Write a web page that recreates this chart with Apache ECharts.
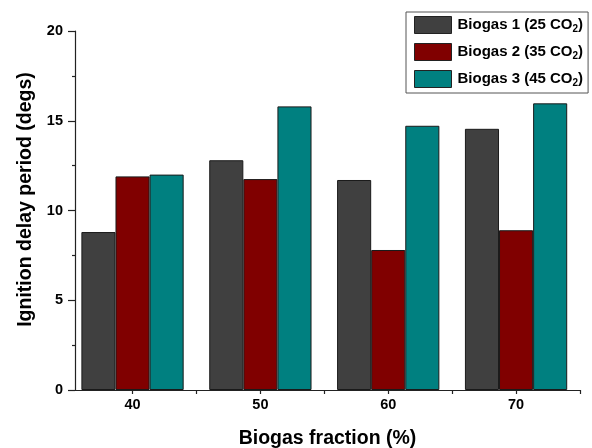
<!DOCTYPE html>
<html>
<head>
<meta charset="utf-8">
<script src="https://cdn.jsdelivr.net/npm/echarts@6/dist/echarts.min.js"></script>
<style>html,body{margin:0;padding:0;background:#fff}#c{width:592px;height:448px}</style>
</head>
<body>
<div id="c"></div>
<script>
var fractions = [40, 50, 60, 70];
var biogas1 = [8.8, 12.8, 11.7, 14.55];
var biogas2 = [11.9, 11.75, 7.8, 8.9];
var biogas3 = [12.0, 15.8, 14.72, 15.97];
var seriesNames = ['Biogas 1 (25 CO{s|2})', 'Biogas 2 (35 CO{s|2})', 'Biogas 3 (45 CO{s|2})'];
var yTicks = [0, 5, 10, 15, 20];
var xTickValues = [40, 45, 50, 55, 60, 65, 70, 75];
var colors = ['#404040', '#800000', '#008080'];

var FONT = '"Liberation Sans", Arial, sans-serif';
function pairs(vals){ return fractions.map(function(f,i){ return [f, vals[i]]; }); }
var allVals = [biogas1, biogas2, biogas3];

var chart = echarts.init(document.getElementById('c'));
chart.setOption({
  animation: false,
  backgroundColor: '#fff',
  textStyle: { fontFamily: FONT },
  grid: { left: 75, right: 12, top: 31, bottom: 58, containLabel: false, outerBoundsMode: 'none' },
  legend: {
    orient: 'vertical',
    left: 406, top: 12,
    padding: [4, 5, 5, 8],
    borderColor: '#555', borderWidth: 1,
    itemWidth: 37, itemHeight: 17, itemGap: 9,
    itemStyle: { borderColor: '#222', borderWidth: 1 },
    textStyle: {
      fontFamily: FONT, fontSize: 15, fontWeight: 'bold', color: '#000', lineHeight: 17, padding: [0,0,0,1],
      rich: { s: { fontFamily: FONT, fontSize: 10, fontWeight: 'bold', color: '#000', lineHeight: 10, padding: [8, 0, 0, 0] } }
    },
    data: seriesNames.map(function(n){ return { name: n, icon: 'rect' }; })
  },
  xAxis: {
    type: 'value', min: 35.5, max: 75,
    name: 'Biogas fraction (%)', nameLocation: 'middle', nameGap: 39,
    nameTextStyle: { fontFamily: FONT, fontSize: 19.5, fontWeight: 'bold', color: '#000' },
    splitLine: { show: false },
    axisLine: { show: true, lineStyle: { color: '#222', width: 1.2 } },
    axisTick: { show: true, length: 4, customValues: xTickValues, lineStyle: { color: '#222', width: 1.2 } },
    axisLabel: { customValues: fractions, margin: 7, fontFamily: FONT, fontSize: 14.5, fontWeight: 'bold', color: '#000' }
  },
  yAxis: {
    type: 'value', min: 0, max: 20, interval: 5,
    name: 'Ignition delay period (degs)', nameLocation: 'middle', nameGap: 37,
    nameTextStyle: { fontFamily: FONT, fontSize: 19.5, fontWeight: 'bold', color: '#000', padding: [0, 0, 0, 22] },
    splitLine: { show: false },
    axisLine: { show: true, lineStyle: { color: '#222', width: 1.2 } },
    axisTick: { show: true, length: 7, lineStyle: { color: '#222', width: 1.2 } },
    minorTick: { show: true, splitNumber: 2, length: 3, lineStyle: { color: '#222', width: 1.2 } },
    axisLabel: { margin: 12, fontFamily: FONT, fontSize: 14.5, fontWeight: 'bold', color: '#000',
      formatter: function(v){ return yTicks.indexOf(v) >= 0 ? String(v) : ''; } }
  },
  series: seriesNames.map(function(n, i){
    return {
      name: n, type: 'bar', data: pairs(allVals[i]),
      barGap: '0%', barCategoryGap: '20%',
      itemStyle: { color: colors[i], borderColor: '#1a1a1a', borderWidth: 1 }
    };
  })
});
</script>
</body>
</html>
